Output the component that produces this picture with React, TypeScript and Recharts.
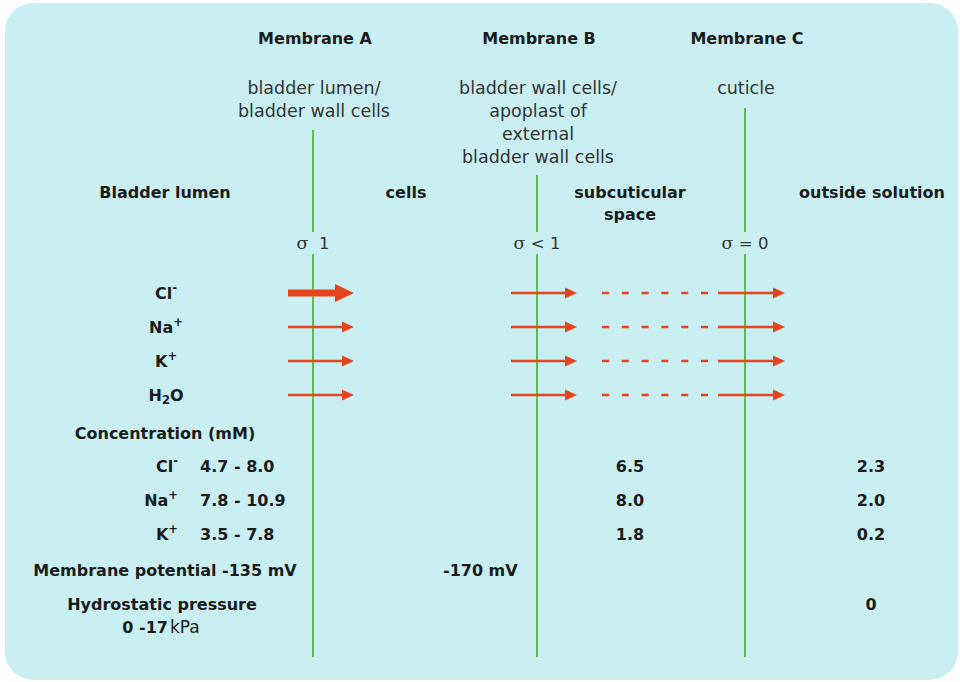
import React from 'react';
import { ComposedChart, XAxis, YAxis, Line, Scatter, ReferenceLine, ReferenceArea } from 'recharts';

// diagram values
const membranes = ['Membrane A', 'Membrane B', 'Membrane C'];
const membraneSites = [
  ['bladder lumen/', 'bladder wall cells'],
  ['bladder wall cells/', 'apoplast of', 'external', 'bladder wall cells'],
  ['cuticle'],
];
const sigmaValues = ['  1', ' < 1', ' = 0'];
const compartments = [['Bladder lumen'], ['cells'], ['subcuticular', 'space'], ['outside solution']];
const ions = ['Cl^-', 'Na^+', 'K^+', 'H_2O'];
// relative flux across membrane A (Cl- is the dominant one)
const fluxA = [2, 1, 1, 1];
const concIons = ['Cl^-', 'Na^+', 'K^+'];
const lumenConc = ['4.7 - 8.0', '7.8 - 10.9', '3.5 - 7.8'];
const subcuticularConc = ['6.5', '8.0', '1.8'];
const outsideConc = ['2.3', '2.0', '0.2'];
const potentials = ['-135 mV', '-170 mV'];
const pressures = ['0 -17', '0'];

// layout
const W = 960;
const H = 682;
const MEM_X = [313, 537, 745];
const MEM_TOP = [130, 175, 108];
const COMP_X = [165, 406, 630, 872];
const ROW_Y = [293, 327, 361, 395];
const CONC_Y = [466, 500, 534];
const FONT = '"DejaVu Sans", "Open Sans", sans-serif';
const INK = '#1b1b1b';
const SOFT = '#333333';
const RED = '#e5441f';
const GREEN = '#5cbf4b';
const BG = '#c9eff2';

type Label = { x: number; y: number; text: string; kind?: string; bold?: boolean; anchor?: string; size?: number };

const labels: Label[] = [];
membranes.forEach((m, i) => labels.push({ x: MEM_X[i] + 2, y: 38, text: m, bold: true }));
membraneSites.forEach((lines, i) =>
  lines.forEach((t, j) => labels.push({ x: MEM_X[i] + 1, y: 88 + j * 23, text: t, size: 17.5 }))
);
compartments.forEach((lines, i) =>
  lines.forEach((t, j) => labels.push({ x: COMP_X[i], y: 192 + j * 22, text: t, bold: true }))
);
sigmaValues.forEach((s, i) => labels.push({ x: MEM_X[i], y: 243, text: s, kind: 'sigma', size: 16.5 }));
ions.forEach((t, i) => labels.push({ x: 166, y: ROW_Y[i], text: t, kind: 'rich', bold: true }));
labels.push({ x: 165, y: 433, text: 'Concentration (mM)', bold: true });
concIons.forEach((t, i) => {
  labels.push({ x: 178, y: CONC_Y[i], text: t, kind: 'rich', bold: true, anchor: 'end' });
  labels.push({ x: 200, y: CONC_Y[i], text: lumenConc[i], bold: true, anchor: 'start' });
  labels.push({ x: 630, y: CONC_Y[i], text: subcuticularConc[i], bold: true });
  labels.push({ x: 871, y: CONC_Y[i], text: outsideConc[i], bold: true });
});
labels.push({ x: 165, y: 570, text: 'Membrane potential ' + potentials[0], bold: true });
labels.push({ x: 443, y: 570, text: potentials[1], bold: true, anchor: 'start' });
labels.push({ x: 162, y: 604, text: 'Hydrostatic pressure', bold: true });
labels.push({ x: 161, y: 627, text: pressures[0], kind: 'kpa', bold: true });
labels.push({ x: 871, y: 604, text: pressures[1], bold: true });

const richParts = (text: string, size: number) => {
  const out: React.ReactNode[] = [];
  let shift = 0;
  for (let i = 0; i < text.length; i++) {
    const c = text[i];
    if ((c === '^' || c === '_') && i + 1 < text.length) {
      const d = c === '^' ? -0.32 * size : 0.3 * size;
      out.push(
        <tspan key={i} dy={d - shift} fontSize={size * 0.72}>
          {text[i + 1]}
        </tspan>
      );
      shift = d;
      i++;
    } else {
      out.push(
        <tspan key={i} dy={-shift}>
          {c}
        </tspan>
      );
      shift = 0;
    }
  }
  return out;
};

const LabelShape = (props: any) => {
  const { cx, cy, payload } = props;
  const p: Label = payload;
  const size = p.size ?? 16;
  let content: React.ReactNode = p.text;
  if (p.kind === 'rich') content = richParts(p.text, size);
  if (p.kind === 'sigma')
    content = [
      <tspan key="s" fontFamily='"DejaVu Serif", "Liberation Serif", serif' fontSize={size + 1}>
        σ
      </tspan>,
      <tspan key="v">{p.text}</tspan>,
    ];
  if (p.kind === 'kpa')
    content = [
      <tspan key="v">{p.text}</tspan>,
      <tspan key="u" fontWeight={400} fontSize={size + 1} dx={2}>
        kPa
      </tspan>,
    ];
  return (
    <text
      x={cx}
      y={cy}
      textAnchor={p.anchor ?? 'middle'}
      dominantBaseline="central"
      fontFamily={FONT}
      fontSize={size}
      fontWeight={p.bold ? 700 : 400}
      fill={p.bold ? INK : SOFT}
      style={{ whiteSpace: 'pre' }}
    >
      {content}
    </text>
  );
};

const arrowHead = (len: number, half: number) => (p: any) => {
  if (p.index !== 1) return <g key={`n${p.index}`} />;
  return (
    <path
      key="head"
      d={`M${p.cx - 1},${p.cy - half} L${p.cx + len},${p.cy} L${p.cx - 1},${p.cy + half} Z`}
      fill={RED}
    />
  );
};

type Arrow = { x1: number; x2: number; y: number; w: number; head: number; half: number };
const arrows: Arrow[] = [];
const dashes: { x1: number; x2: number; y: number }[] = [];
ROW_Y.forEach((y, r) => {
  const strong = fluxA[r] > 1;
  arrows.push({ x1: MEM_X[0] - 25, x2: MEM_X[0] + 41, y, w: strong ? 7 : 2.4, head: strong ? 18 : 11, half: strong ? 9 : 5.5 });
  arrows.push({ x1: MEM_X[1] - 26, x2: MEM_X[1] + 40, y, w: 2.4, head: 11, half: 5.5 });
  arrows.push({ x1: MEM_X[2] - 27, x2: MEM_X[2] + 40, y, w: 2.4, head: 11, half: 5.5 });
  dashes.push({ x1: MEM_X[1] + 65, x2: MEM_X[2] - 37, y });
});

export default function App() {
  return (
    <div style={{ position: 'absolute', left: 0, top: 0, width: W, height: H, background: '#ffffff' }}>
      <ComposedChart width={W} height={H} margin={{ top: 0, right: 0, bottom: 0, left: 0 }}>
        <XAxis type="number" dataKey="x" domain={[0, W]} allowDataOverflow hide />
        <YAxis type="number" dataKey="y" domain={[0, H]} reversed allowDataOverflow hide />
        <ReferenceArea
          x1={5}
          x2={958}
          y1={3}
          y2={680}
          ifOverflow="visible"
          shape={(p: any) => <rect x={p.x} y={p.y} width={p.width} height={p.height} rx={28} ry={28} fill={BG} />}
        />
        {MEM_X.map((x, i) => (
          <ReferenceLine
            key={`mt${i}`}
            segment={[{ x, y: MEM_TOP[i] }, { x, y: 232 }]}
            stroke={GREEN}
            strokeWidth={2}
          />
        ))}
        {MEM_X.map((x, i) => (
          <ReferenceLine
            key={`mb${i}`}
            segment={[{ x, y: 254 }, { x, y: 657 }]}
            stroke={GREEN}
            strokeWidth={2}
          />
        ))}
        {dashes.map((d, i) => (
          <Line
            key={`d${i}`}
            data={[{ x: d.x1, y: d.y }, { x: d.x2, y: d.y }]}
            dataKey="y"
            stroke={RED}
            strokeWidth={2.6}
            strokeDasharray="7 12.8"
            dot={false}
            activeDot={false}
            isAnimationActive={false}
          />
        ))}
        {arrows.map((a, i) => (
          <Line
            key={`a${i}`}
            data={[{ x: a.x1, y: a.y }, { x: a.x2 - a.head, y: a.y }]}
            dataKey="y"
            stroke={RED}
            strokeWidth={a.w}
            dot={arrowHead(a.head, a.half)}
            activeDot={false}
            isAnimationActive={false}
          />
        ))}
        <Scatter data={labels} dataKey="y" shape={LabelShape} isAnimationActive={false} />
      </ComposedChart>
    </div>
  );
}
